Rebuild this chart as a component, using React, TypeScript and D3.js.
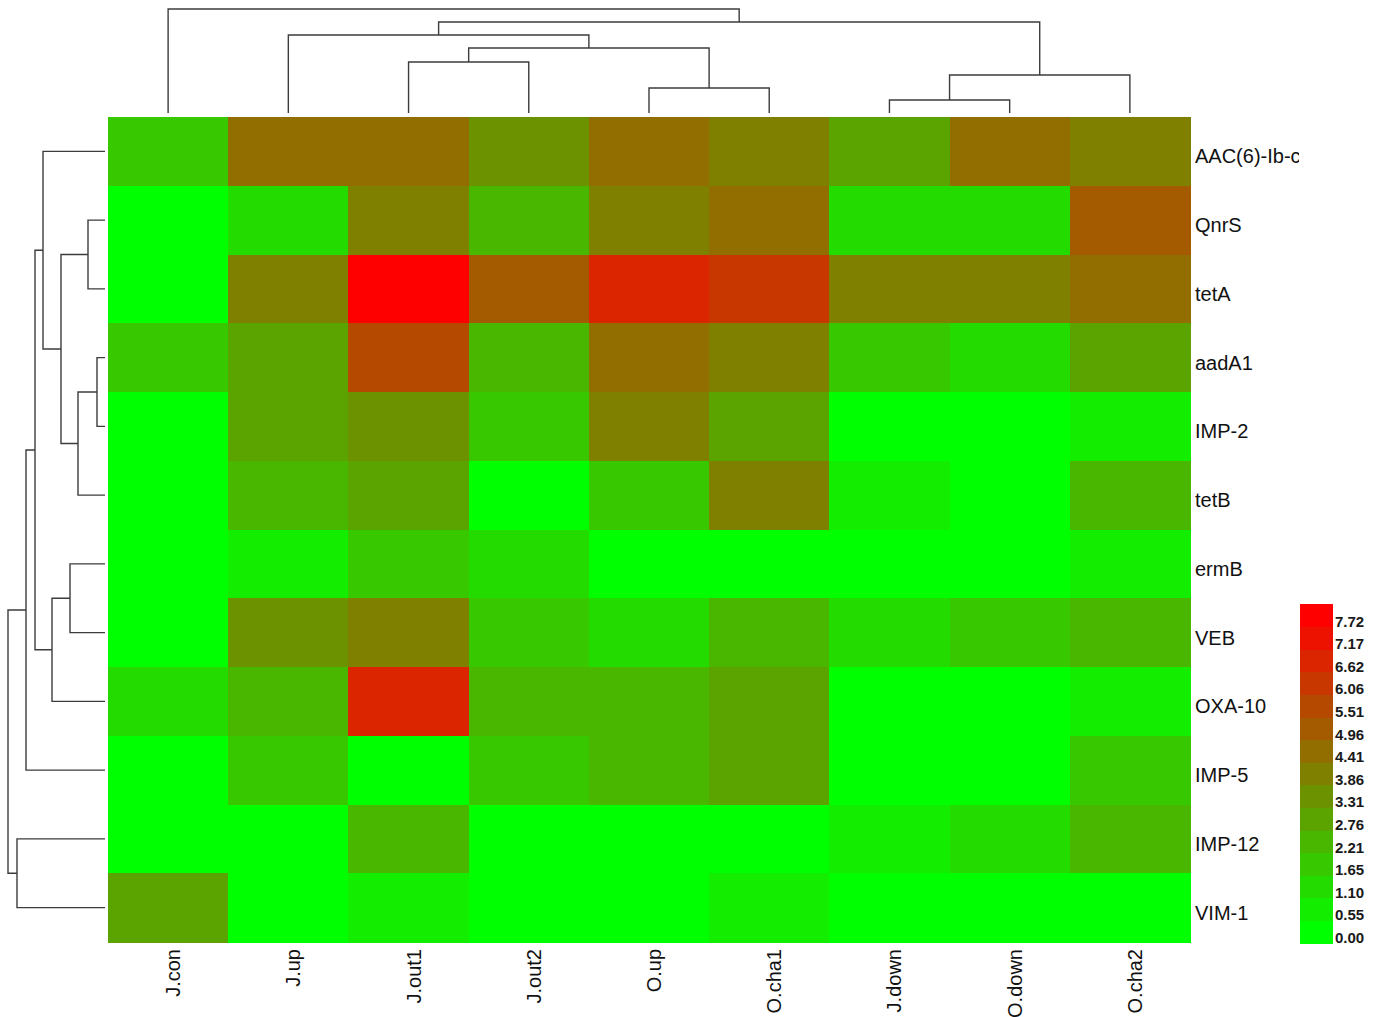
import React from "react";
import * as d3 from "d3";

// Samples (columns) and genes (rows) in dendrogram order
const samples = ["J.con", "J.up", "J.out1", "J.out2", "O.up", "O.cha1", "J.down", "O.down", "O.cha2"];
const genes = ["AAC(6)-Ib-cr", "QnrS", "tetA", "aadA1", "IMP-2", "tetB", "ermB", "VEB", "OXA-10", "IMP-5", "IMP-12", "VIM-1"];

// Abundance values, one array per gene, in sample order
const aac6 = [1.62, 4.44, 4.38, 3.35, 4.47, 3.88, 2.79, 4.40, 3.83];
const qnrS = [0.0, 1.12, 3.9, 2.18, 3.84, 4.42, 1.08, 1.13, 4.98];
const tetA = [0.0, 3.87, 7.72, 4.93, 6.6, 6.08, 3.85, 3.89, 4.39];
const aadA1 = [1.68, 2.74, 5.49, 2.23, 4.43, 3.86, 1.66, 1.09, 2.78];
const imp2 = [0.0, 2.77, 3.28, 1.64, 3.88, 2.75, 0.0, 0.0, 0.57];
const tetB = [0.0, 2.22, 2.8, 0.0, 1.67, 3.84, 0.54, 0.0, 2.19];
const ermB = [0.0, 0.56, 1.63, 1.11, 0.0, 0.0, 0.0, 0.0, 0.53];
const veb = [0.0, 3.32, 3.87, 1.65, 1.1, 2.2, 1.12, 1.68, 2.23];
const oxa10 = [1.09, 2.21, 6.63, 2.24, 2.19, 2.77, 0.0, 0.0, 0.56];
const imp5 = [0.0, 1.66, 0.0, 1.64, 2.22, 2.74, 0.0, 0.0, 1.67];
const imp12 = [0.0, 0.0, 2.2, 0.0, 0.0, 0.0, 0.55, 1.1, 2.22];
const vim1 = [2.76, 0.0, 0.57, 0.0, 0.0, 0.54, 0.0, 0.0, 0.0];
const matrix = [aac6, qnrS, tetA, aadA1, imp2, tetB, ermB, veb, oxa10, imp5, imp12, vim1];

// Colour key tick labels
const keyTicks = ["0.00", "0.55", "1.10", "1.65", "2.21", "2.76", "3.31", "3.86", "4.41", "4.96", "5.51", "6.06", "6.62", "7.17", "7.72"];
const valueMax = 7.72;

// hclust-style merge tables (negative = leaf index, positive = earlier merge) and heights
const colMerge = [[-7, -8], [-5, -6], [1, -9], [-3, -4], [4, 2], [-2, 5], [6, 3], [-1, 7]];
const colHeights = [13, 25, 38, 51, 65, 78, 91, 104];
const rowMerge = [[-4, -5], [-2, -3], [1, -6], [-7, -8], [2, 3], [4, -9], [-1, 5], [7, 6], [8, -10], [-11, -12], [9, 10]];
const rowHeights = [8, 17, 27, 35, 44, 53, 62, 70, 79, 88, 97];

const W = 1381;
const H = 1017;
const FONT = "'Liberation Sans', Arial, Helvetica, sans-serif";
const LINE = "#3c3c3c";

// Elbow segments of a dendrogram; leafPos(i) gives a leaf position, hs maps height to pixels
function dendroSegments(
  merge: number[][],
  heights: number[],
  leafPos: (i: number) => number,
  hs: d3.ScaleLinear<number, number>
) {
  const pos: number[] = [];
  const segs: { p1: number; h1: number; p2: number; h2: number; h: number }[] = [];
  const info = (k: number) => (k < 0 ? { p: leafPos(-k - 1), h: 0 } : { p: pos[k - 1], h: heights[k - 1] });
  merge.forEach(([a, b], i) => {
    const A = info(a);
    const B = info(b);
    pos[i] = (A.p + B.p) / 2;
    segs.push({ p1: A.p, h1: hs(A.h), p2: B.p, h2: hs(B.h), h: hs(heights[i]) });
  });
  return segs;
}

export default function App() {
  React.useEffect(() => {
    document.body.style.margin = "0";
  }, []);

  const x = d3.scaleBand<string>().domain(samples).range([108, 1190]);
  const y = d3.scaleBand<string>().domain(genes).range([117, 942]);

  const palette = d3.quantize(d3.interpolateRgb("#00ff00", "#ff0000"), keyTicks.length);
  const color = d3.scaleQuantize<string>().domain([0, valueMax]).range(palette);

  const colH = d3.scaleLinear().domain([0, d3.max(colHeights) as number]).range([113, 9]);
  const rowH = d3.scaleLinear().domain([0, d3.max(rowHeights) as number]).range([105, 8]);

  const colSegs = dendroSegments(colMerge, colHeights, (i) => (x(samples[i]) as number) + x.bandwidth() / 2, colH);
  const rowSegs = dendroSegments(rowMerge, rowHeights, (i) => (y(genes[i]) as number) + y.bandwidth() / 2, rowH);

  // Colour key: one block per tick, lowest at the bottom
  const keyY = d3.scaleBand<string>().domain([...keyTicks].reverse()).range([604, 943]);

  return (
    <svg width={W} height={H} style={{ display: "block", background: "#fff" }} fontFamily={FONT}>
      <defs>
        <clipPath id="rowLabelClip">
          <rect x={1190} y={0} width={109} height={H} />
        </clipPath>
      </defs>

      {/* heatmap cells */}
      <g shapeRendering="crispEdges">
        {matrix.map((row, r) =>
          row.map((v, c) => (
            <rect
              key={`${r}-${c}`}
              x={x(samples[c])}
              y={y(genes[r])}
              width={x.bandwidth() + 0.5}
              height={y.bandwidth() + 0.5}
              fill={color(v)}
            />
          ))
        )}
      </g>

      {/* column dendrogram */}
      <g fill="none" stroke={LINE} strokeWidth={1.4}>
        {colSegs.map((s, i) => (
          <path key={i} d={`M${s.p1},${s.h1}V${s.h}H${s.p2}V${s.h2}`} />
        ))}
      </g>

      {/* row dendrogram */}
      <g fill="none" stroke={LINE} strokeWidth={1.4}>
        {rowSegs.map((s, i) => (
          <path key={i} d={`M${s.h1},${s.p1}H${s.h}V${s.p2}H${s.h2}`} />
        ))}
      </g>

      {/* row labels */}
      <g clipPath="url(#rowLabelClip)" fontSize={20} fill="#111">
        {genes.map((g) => (
          <text key={g} x={1195} y={(y(g) as number) + y.bandwidth() / 2 + 5} dy="0.35em">
            {g}
          </text>
        ))}
      </g>

      {/* column labels */}
      <g fontSize={20} fill="#111">
        {samples.map((s) => {
          const cx = (x(s) as number) + x.bandwidth() / 2;
          return (
            <text key={s} transform={`translate(${cx},949) rotate(-90)`} textAnchor="end" dy="0.6em">
              {s}
            </text>
          );
        })}
      </g>

      {/* colour key */}
      <g shapeRendering="crispEdges">
        {keyTicks.map((t, i) => (
          <rect key={t} x={1300} y={keyY(t)} width={33} height={keyY.bandwidth() + 0.5} fill={palette[i]} />
        ))}
      </g>
      <g fontSize={15} fontWeight="bold" fill="#1a1a1a">
        {keyTicks.map((t) => (
          <text key={t} x={1335} y={(keyY(t) as number) + keyY.bandwidth() / 2 + 6} dy="0.35em">
            {t}
          </text>
        ))}
      </g>
    </svg>
  );
}
